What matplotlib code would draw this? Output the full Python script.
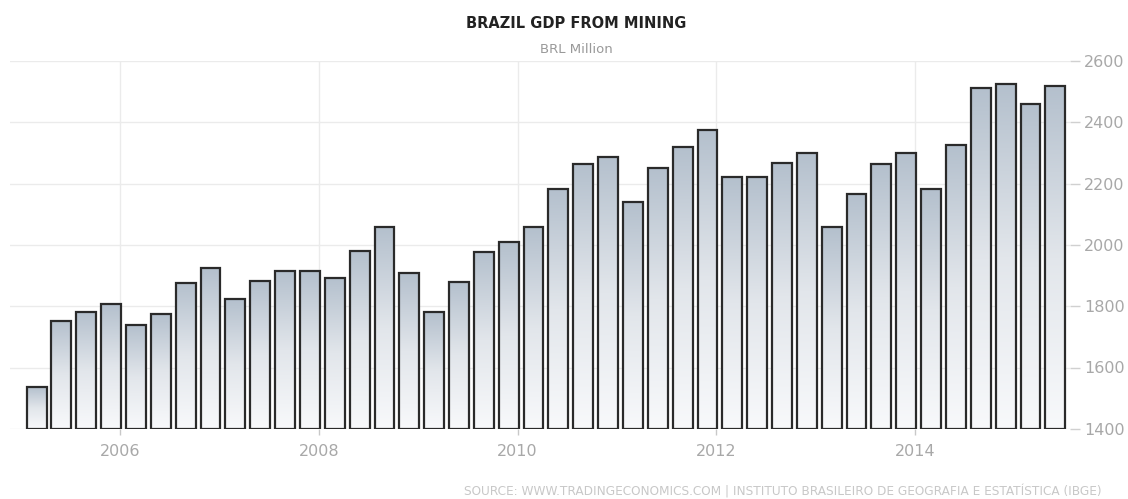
import numpy as np
import matplotlib.pyplot as plt
from matplotlib.colors import LinearSegmentedColormap

# quarterly values, 2005 Q1 - 2015 Q2 (BRL million)
gdp_mining = [1535, 1753, 1780, 1807, 1739, 1775, 1877, 1924, 1822, 1882,
              1915, 1915, 1893, 1980, 2058, 1907, 1780, 1880, 1978, 2010,
              2059, 2181, 2263, 2288, 2139, 2250, 2320, 2375, 2223, 2223,
              2266, 2299, 2059, 2165, 2263, 2299, 2181, 2326, 2511, 2525,
              2460, 2518]
year_labels = ['2006', '2008', '2010', '2012', '2014']
y_ticks = [1400, 1600, 1800, 2000, 2200, 2400, 2600]

base = 1400
x = np.arange(len(gdp_mining))
year_pos = [3.36 + 8 * k for k in range(len(year_labels))]

fig = plt.figure(figsize=(11.28, 4.99), dpi=100)
ax = fig.add_axes([10 / 1128, 1 - 428.8 / 499, 1060 / 1128, 367.8 / 499])

heights = np.array(gdp_mining) - base
bars = ax.bar(x, heights, bottom=base, width=0.8, facecolor='none',
              edgecolor='#2a2a2a', linewidth=1.6, zorder=3)

# vertical gradient fill inside each bar
cmap = LinearSegmentedColormap.from_list('bar', ['#f8f9fb', '#e2e6eb', '#b4c0cd'])
grad = np.linspace(0, 1, 256).reshape(-1, 1)
for b in bars:
    x0, y0 = b.get_xy()
    im = ax.imshow(grad, cmap=cmap, aspect='auto', origin='lower',
                   extent=[x0, x0 + b.get_width(), y0, y0 + b.get_height()],
                   zorder=2, interpolation='bilinear')
    im.set_clip_path(b)

ax.set_xlim(-1.07, 41.59)
ax.set_ylim(1400, 2600)

ax.set_yticks(y_ticks)
ax.set_xticks(year_pos)
ax.set_xticklabels(year_labels)
ax.yaxis.tick_right()
ax.tick_params(axis='y', colors='#d0d0d0', labelcolor='#a8a8a8', labelsize=11.5,
               length=7, width=1, pad=3)
ax.tick_params(axis='x', colors='#c8c8c8', labelcolor='#a8a8a8', labelsize=11.5,
               length=4, width=1, pad=7)
ax.grid(True, color='#ebebeb', linewidth=1, zorder=0)
ax.set_axisbelow(True)
for s in ax.spines.values():
    s.set_visible(False)

fig.text(0.511, 0.952, 'BRAZIL GDP FROM MINING', ha='center', va='center',
         fontsize=10.5, fontweight='bold', color='#222222')
fig.text(0.511, 0.9, 'BRL Million', ha='center', va='center',
         fontsize=9.5, color='#999999')
fig.text(0.977, 0.016, 'SOURCE: WWW.TRADINGECONOMICS.COM | INSTITUTO BRASILEIRO DE GEOGRAFIA E ESTATÍSTICA (IBGE)',
         ha='right', va='center', fontsize=8.7, color='#c8c8c8')

fig.savefig('out.png', dpi=100)
